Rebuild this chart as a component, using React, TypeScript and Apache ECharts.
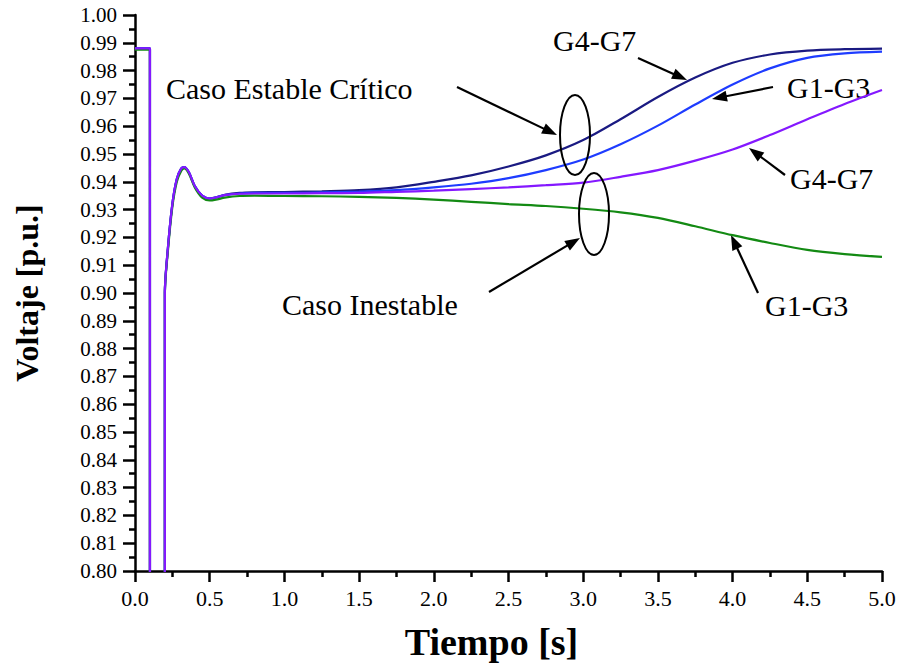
import React, { useEffect, useRef } from "react";
import * as echarts from "echarts";

// Time samples [s]
const T = [0, 0.1, 0.1, 0.2, 0.2, 0.22, 0.25, 0.28, 0.31, 0.33, 0.36, 0.4, 0.45, 0.5, 0.55, 0.6, 0.7, 0.8, 1.0, 1.25, 1.5, 1.75, 2.0, 2.25, 2.5, 2.75, 3.0, 3.25, 3.5, 3.75, 4.0, 4.25, 4.5, 4.75, 5.0];

// Caso Estable Crítico
const estableG4G7 = [0.988, 0.988, 0.6, 0.6, 0.9, 0.916, 0.932, 0.941, 0.9448, 0.9453, 0.9435, 0.9385, 0.935, 0.934, 0.9345, 0.9353, 0.936, 0.9362, 0.9363, 0.9366, 0.937, 0.938, 0.94, 0.9423, 0.9455, 0.9495, 0.955, 0.9625, 0.9705, 0.9775, 0.9828, 0.9858, 0.9872, 0.9877, 0.9879];
const estableG1G3 = [0.988, 0.988, 0.6, 0.6, 0.9, 0.916, 0.932, 0.941, 0.9448, 0.9453, 0.9435, 0.9385, 0.935, 0.934, 0.9345, 0.9352, 0.9358, 0.936, 0.936, 0.9362, 0.9365, 0.937, 0.938, 0.9393, 0.9413, 0.9442, 0.948, 0.9535, 0.9602, 0.9678, 0.975, 0.9808, 0.9846, 0.9862, 0.9868];
// Caso Inestable
const inestableG4G7 = [0.988, 0.988, 0.6, 0.6, 0.9, 0.916, 0.932, 0.941, 0.9448, 0.9453, 0.9435, 0.9385, 0.935, 0.934, 0.9345, 0.9352, 0.9357, 0.9358, 0.9358, 0.9359, 0.936, 0.9364, 0.9368, 0.9374, 0.938, 0.9388, 0.9397, 0.9418, 0.9442, 0.9476, 0.9516, 0.9568, 0.9625, 0.968, 0.973];
const inestableG1G3 = [0.9875, 0.9875, 0.6, 0.6, 0.9, 0.915, 0.931, 0.94, 0.944, 0.9448, 0.943, 0.938, 0.9343, 0.9333, 0.9337, 0.9343, 0.9349, 0.935, 0.9349, 0.9348, 0.9346, 0.9342, 0.9336, 0.9328, 0.932, 0.9313, 0.9303, 0.929, 0.927, 0.924, 0.9208, 0.918, 0.9155, 0.914, 0.913];

const SERIES_NAMES = ["Estable G4-G7", "Estable G1-G3", "Inestable G1-G3", "Inestable G4-G7"];
const SERIES_VALUES = [estableG4G7, estableG1G3, inestableG1G3, inestableG4G7];
const SERIES_COLORS = ["#1a1a82", "#1e3cff", "#138a13", "#8418ff"];

const FONT = "Liberation Serif";

function arrow(x1: number, y1: number, x2: number, y2: number) {
  const dx = x2 - x1;
  const dy = y2 - y1;
  const len = Math.sqrt(dx * dx + dy * dy);
  const ux = dx / len;
  const uy = dy / len;
  const hl = 15;
  const hw = 5.5;
  const bx = x2 - ux * hl;
  const by = y2 - uy * hl;
  return [
    {
      type: "line",
      shape: { x1, y1, x2: bx + ux * 2, y2: by + uy * 2 },
      style: { stroke: "#000", lineWidth: 2.2 },
    },
    {
      type: "polygon",
      shape: {
        points: [
          [x2, y2],
          [bx - uy * hw, by + ux * hw],
          [bx + uy * hw, by - ux * hw],
        ],
      },
      style: { fill: "#000" },
    },
  ];
}

function label(text: string, x: number, y: number) {
  return {
    type: "text",
    x,
    y,
    style: {
      text,
      fontFamily: FONT,
      fontSize: 30,
      fill: "#000",
      align: "left",
      verticalAlign: "middle",
    },
  };
}

export default function App() {
  const ref = useRef<HTMLDivElement>(null);

  useEffect(() => {
    if (!ref.current) return;
    const chart = echarts.init(ref.current, undefined, { renderer: "svg" });

    const series = SERIES_VALUES.map((vals, i) => ({
      name: SERIES_NAMES[i],
      type: "line",
      data: T.map((t, k) => [t, vals[k]]),
      showSymbol: false,
      symbol: "none",
      clip: true,
      smooth: 0.3,
      lineStyle: { color: SERIES_COLORS[i], width: 2.2 },
      itemStyle: { color: SERIES_COLORS[i] },
      z: 2 + i,
    }));

    const graphics: any[] = [
      label("Caso Estable Crítico", 166, 88),
      label("G4-G7", 553, 40),
      label("G1-G3", 787, 87),
      label("G4-G7", 790, 178),
      label("G1-G3", 765, 305),
      label("Caso Inestable", 282, 304),
      {
        type: "ellipse",
        shape: { cx: 575, cy: 135, rx: 15, ry: 40 },
        style: { fill: "none", stroke: "#000", lineWidth: 2 },
        z: 10,
      },
      {
        type: "ellipse",
        shape: { cx: 594, cy: 214, rx: 15, ry: 41 },
        style: { fill: "none", stroke: "#000", lineWidth: 2 },
        z: 10,
      },
      ...arrow(457, 87, 557, 135),
      ...arrow(638, 58, 687, 80),
      ...arrow(773, 87, 712, 99),
      ...arrow(785, 175, 749, 148),
      ...arrow(758, 293, 731, 235),
      ...arrow(489, 292, 580, 238),
    ];

    chart.setOption({
      animation: false,
      backgroundColor: "#fff",
      textStyle: { fontFamily: FONT },
      grid: { left: 135, right: 20, top: 15, bottom: 98, containLabel: false },
      xAxis: {
        type: "value",
        min: 0,
        max: 5,
        interval: 0.5,
        name: "Tiempo [s]",
        nameLocation: "middle",
        nameGap: 52,
        nameTextStyle: { fontFamily: FONT, fontWeight: "bold", fontSize: 38, color: "#000", padding: [0, 34, 0, 0] },
        axisLine: { show: true, onZero: false, lineStyle: { color: "#000", width: 2.5 } },
        axisTick: { show: true, length: 11, lineStyle: { color: "#000", width: 2.5 } },
        minorTick: { show: true, splitNumber: 2, length: 6, lineStyle: { color: "#000", width: 2.5 } },
        splitLine: { show: false },
        axisLabel: {
          margin: 16,
          fontFamily: FONT,
          fontSize: 22,
          color: "#000",
          formatter: (v: number) => v.toFixed(1),
        },
      },
      yAxis: {
        type: "value",
        min: 0.8,
        max: 1.0,
        interval: 0.01,
        name: "Voltaje [p.u.]",
        nameLocation: "middle",
        nameGap: 92,
        nameTextStyle: { fontFamily: FONT, fontWeight: "bold", fontSize: 32, color: "#000" },
        axisLine: { show: true, onZero: false, lineStyle: { color: "#000", width: 2.5 } },
        axisTick: { show: true, length: 12, lineStyle: { color: "#000", width: 2.5 } },
        minorTick: { show: true, splitNumber: 2, length: 6, lineStyle: { color: "#000", width: 2.5 } },
        splitLine: { show: false },
        axisLabel: {
          margin: 18,
          fontFamily: FONT,
          fontSize: 21,
          color: "#000",
          formatter: (v: number) => v.toFixed(2),
        },
      },
      series,
      graphic: graphics,
    });

    return () => chart.dispose();
  }, []);

  return (
    <div
      ref={ref}
      style={{ position: "fixed", left: 0, top: 0, width: 902, height: 669, background: "#fff" }}
    />
  );
}
